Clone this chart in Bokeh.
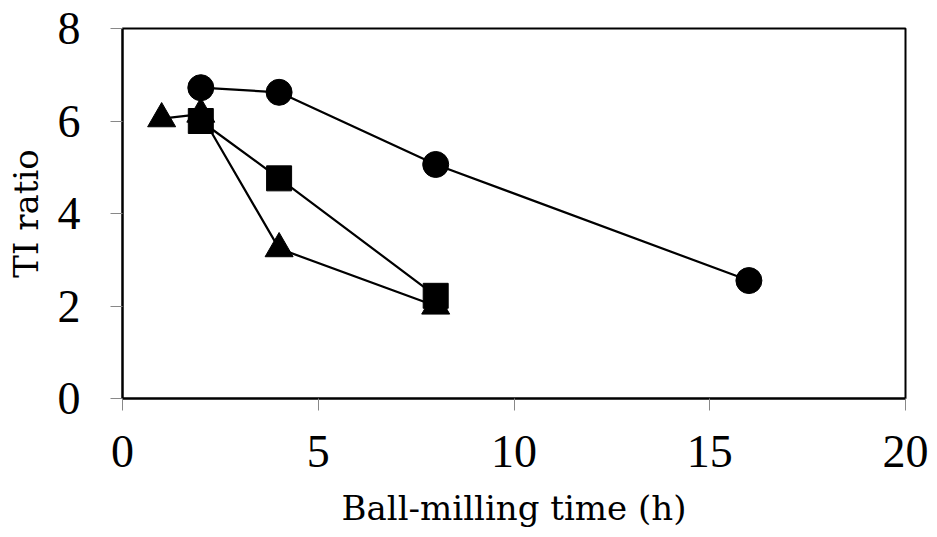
from bokeh.plotting import figure
from bokeh.models import Range1d, FixedTicker
from bokeh.embed import file_html
from bokeh.resources import INLINE

# Data
tri_time = [1, 2, 4, 8]
tri_ratio = [6.05, 6.15, 3.24, 2.0]
sq_time = [2, 4, 8]
sq_ratio = [6.0, 4.76, 2.22]
circ_time = [2, 4, 8, 16]
circ_ratio = [6.72, 6.62, 5.06, 2.55]

x_ticks = [0, 5, 10, 15, 20]
y_ticks = [0, 2, 4, 6, 8]

p = figure(width=937, height=537, output_backend="svg", toolbar_location=None,
           x_range=Range1d(0, 20), y_range=Range1d(0, 8),
           min_border_left=122, min_border_right=32, min_border_top=28, min_border_bottom=139)
p.background_fill_color = "white"
p.border_fill_color = "white"
p.outline_line_color = "black"
p.outline_line_width = 2
p.grid.visible = False

tick_font = "Liberation Serif"
label_font = "DejaVu Serif"
for ax in (p.xaxis[0], p.yaxis[0]):
    ax.axis_line_color = "black"
    ax.axis_line_width = 2
    ax.major_tick_line_color = "#888888"
    ax.major_tick_line_width = 1
    ax.major_tick_out = 12
    ax.major_tick_in = 0
    ax.minor_tick_line_color = None
    ax.major_label_text_font = tick_font
    ax.major_label_text_font_size = "46px"
    ax.major_label_text_color = "black"
    ax.axis_label_text_font = label_font
    ax.axis_label_text_font_size = "34px"
    ax.axis_label_text_font_style = "normal"
    ax.axis_label_text_color = "black"

p.xaxis.ticker = FixedTicker(ticks=x_ticks)
p.yaxis.ticker = FixedTicker(ticks=y_ticks)
p.xaxis.axis_label = "Ball-milling time (h)"
p.yaxis.axis_label = "TI ratio"
p.xaxis.major_label_standoff = 25
p.yaxis.major_label_standoff = 30
p.xaxis.axis_label_standoff = 18
p.yaxis.axis_label_standoff = 9

p.line(tri_time, tri_ratio, line_color="black", line_width=2.2)
p.scatter(tri_time, tri_ratio, marker="triangle", size=28, fill_color="black", line_color="black")
p.line(sq_time, sq_ratio, line_color="black", line_width=2.2)
p.scatter(sq_time, sq_ratio, marker="square", size=25, fill_color="black", line_color="black")
p.line(circ_time, circ_ratio, line_color="black", line_width=2.2)
p.scatter(circ_time, circ_ratio, marker="circle", size=26, fill_color="black", line_color="black")

open("out.html", "w").write(file_html(p, INLINE))
